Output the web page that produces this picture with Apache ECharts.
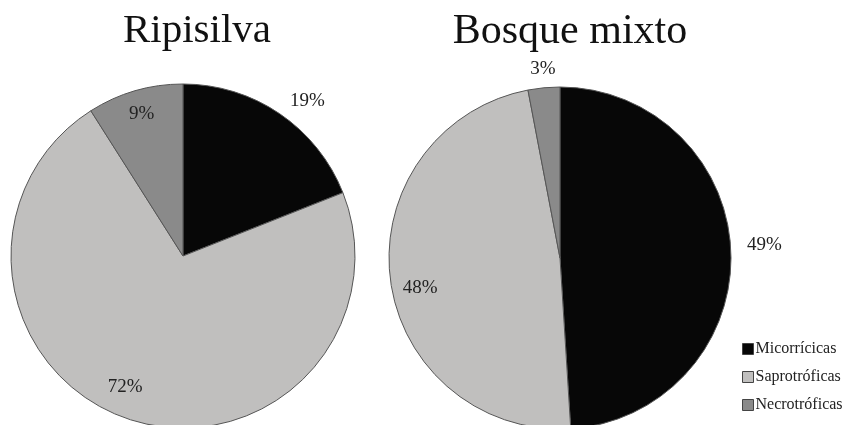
<!DOCTYPE html>
<html><head><meta charset="utf-8">
<script src="https://cdn.jsdelivr.net/npm/echarts@6/dist/echarts.min.js"></script>
<style>html,body{margin:0;padding:0;background:#fff}#c{width:857px;height:425px}</style>
</head><body><div id="c"></div>
<script>
const categories = ['Micorrícicas', 'Saprotróficas', 'Necrotróficas'];
const ripisilva = [19, 72, 9];
const bosqueMixto = [49, 48, 3];
const titles = ['Ripisilva', 'Bosque mixto'];
const colors = ['#070707', '#c0bfbe', '#8a8a8a'];

const serif = '"Liberation Serif", "Times New Roman", serif';
const chart = echarts.init(document.getElementById('c'));

function mk(vals) { return vals.map((v, i) => ({ name: categories[i], value: v, itemStyle: { color: colors[i] } })); }
function labelData(vals, outsideIdx) {
  return vals.map((v, i) => ({
    name: categories[i], value: v,
    label: outsideIdx.includes(i) ? { position: 'outside' } : { position: 'inside' }
  }));
}
const labelStyle = { formatter: '{c}%', fontFamily: serif, fontSize: 19, color: '#222' };
// small label nudges per slice
const nudgeLeft = [[-3, 0], [-12, -10], [0, 0]];
const nudgeRight = [[-3, -7], [5, 12], [18, -5]];

chart.setOption({
  animation: false,
  title: [
    { text: titles[0], left: 192, top: 6, textAlign: 'center', textStyle: { fontFamily: serif, fontSize: 41, fontWeight: 'normal', color: '#111' } },
    { text: titles[1], left: 565, top: 6, textAlign: 'center', textStyle: { fontFamily: serif, fontSize: 42, fontWeight: 'normal', color: '#111' } }
  ],
  legend: {
    orient: 'vertical', left: 737, top: 336, itemGap: 12,
    icon: 'rect', itemWidth: 11, itemHeight: 11,
    textStyle: { fontFamily: serif, fontSize: 16, color: '#222', padding: [0, 0, 0, -3] },
    data: categories.map((c, i) => ({ name: c, itemStyle: { color: colors[i], borderColor: '#444', borderWidth: 1 } }))
  },
  series: [
    { type: 'pie', center: [183, 256], radius: 172, startAngle: 90, clockwise: true, silent: true,
      label: { show: false }, labelLine: { show: false },
      itemStyle: { borderColor: '#555', borderWidth: 1 }, data: mk(ripisilva) },
    { type: 'pie', center: [560, 258], radius: 171, startAngle: 90, clockwise: true, silent: true,
      label: { show: false }, labelLine: { show: false },
      itemStyle: { borderColor: '#555', borderWidth: 1 }, data: mk(bosqueMixto) },
    { type: 'pie', center: [183, 256], radius: [118, 172], startAngle: 90, silent: true, legendHoverLink: false,
      itemStyle: { color: 'rgba(0,0,0,0)' }, label: labelStyle,
      labelLayout: p => ({ dx: nudgeLeft[p.dataIndex][0], dy: nudgeLeft[p.dataIndex][1] }),
      labelLine: { show: false, length: 15, length2: 0 }, data: labelData(ripisilva, [0]) },
    { type: 'pie', center: [560, 258], radius: [115, 171], startAngle: 90, silent: true, legendHoverLink: false,
      itemStyle: { color: 'rgba(0,0,0,0)' }, label: labelStyle,
      labelLayout: p => ({ dx: nudgeRight[p.dataIndex][0], dy: nudgeRight[p.dataIndex][1] }),
      labelLine: { show: false, length: 14, length2: 0 }, data: labelData(bosqueMixto, [0, 2]) }
  ]
});
</script></body></html>
